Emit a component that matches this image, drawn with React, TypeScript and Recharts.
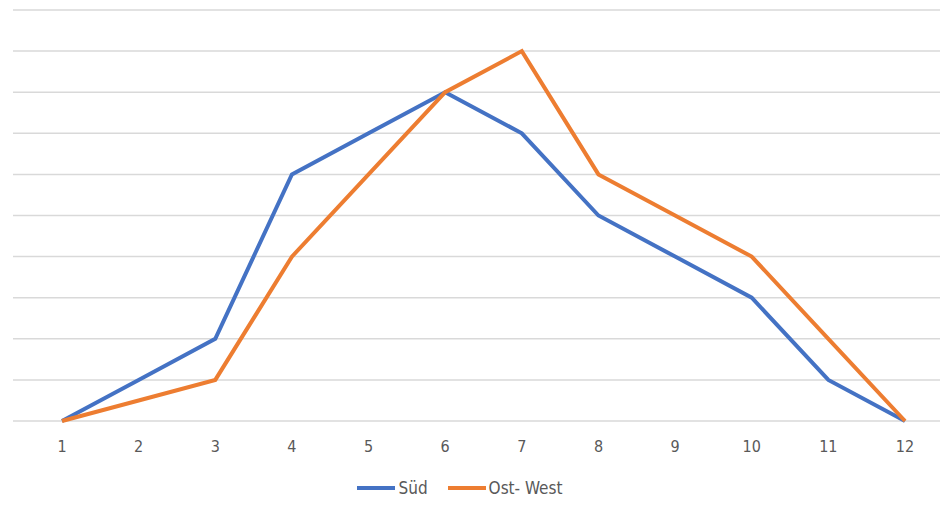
import { CartesianGrid, Legend, Line, LineChart, XAxis, YAxis } from 'recharts';

const months = ['1', '2', '3', '4', '5', '6', '7', '8', '9', '10', '11', '12'];
const sued = [0, 1, 2, 6, 7, 8, 7, 5, 4, 3, 1, 0];
const ostWest = [0, 0.5, 1, 4, 6, 8, 9, 6, 5, 4, 2, 0];
const yTicks = [0, 1, 2, 3, 4, 5, 6, 7, 8, 9, 10];

const COLORS = { sued: '#4472C4', ostWest: '#ED7D31' };
const FONT = '"Liberation Sans Narrow", "DejaVu Sans Condensed", sans-serif';

const data = months.map((m, i) => ({ month: m, sued: sued[i], ostWest: ostWest[i] }));

const legendItems = [
  { label: 'Süd', color: COLORS.sued },
  { label: 'Ost- West', color: COLORS.ostWest },
];

function ChartLegend() {
  return (
    <div style={{ display: 'flex', justifyContent: 'center', gap: 20, fontFamily: FONT, fontSize: 17, color: '#595959' }}>
      {legendItems.map(item => (
        <div key={item.label} style={{ display: 'flex', alignItems: 'center', gap: 3 }}>
          <span style={{ display: 'inline-block', width: 38, height: 4, background: item.color }} />
          <span>{item.label}</span>
        </div>
      ))}
    </div>
  );
}

export default function App() {
  return (
    <div style={{ width: 940, height: 509, background: '#fff' }}>
      <LineChart width={940} height={509} data={data} margin={{ top: 2, right: 8, left: 5, bottom: 46 }}>
        <CartesianGrid vertical={false} stroke="#d9d9d9" strokeWidth={1.5} />
        <XAxis
          dataKey="month"
          padding={{ left: 49, right: 35 }}
          axisLine={false}
          tickLine={false}
          tick={{ fontSize: 16, fill: '#595959', fontFamily: FONT }}
          tickMargin={14}
        />
        <YAxis hide domain={[0, 10]} ticks={yTicks} />
        <Legend content={<ChartLegend />} wrapperStyle={{ top: 470, left: -18, width: 940 }} />
        <Line dataKey="sued" name="Süd" stroke={COLORS.sued} strokeWidth={4} dot={false} isAnimationActive={false} strokeLinejoin="miter" />
        <Line dataKey="ostWest" name="Ost- West" stroke={COLORS.ostWest} strokeWidth={4} dot={false} isAnimationActive={false} strokeLinejoin="miter" />
      </LineChart>
    </div>
  );
}
